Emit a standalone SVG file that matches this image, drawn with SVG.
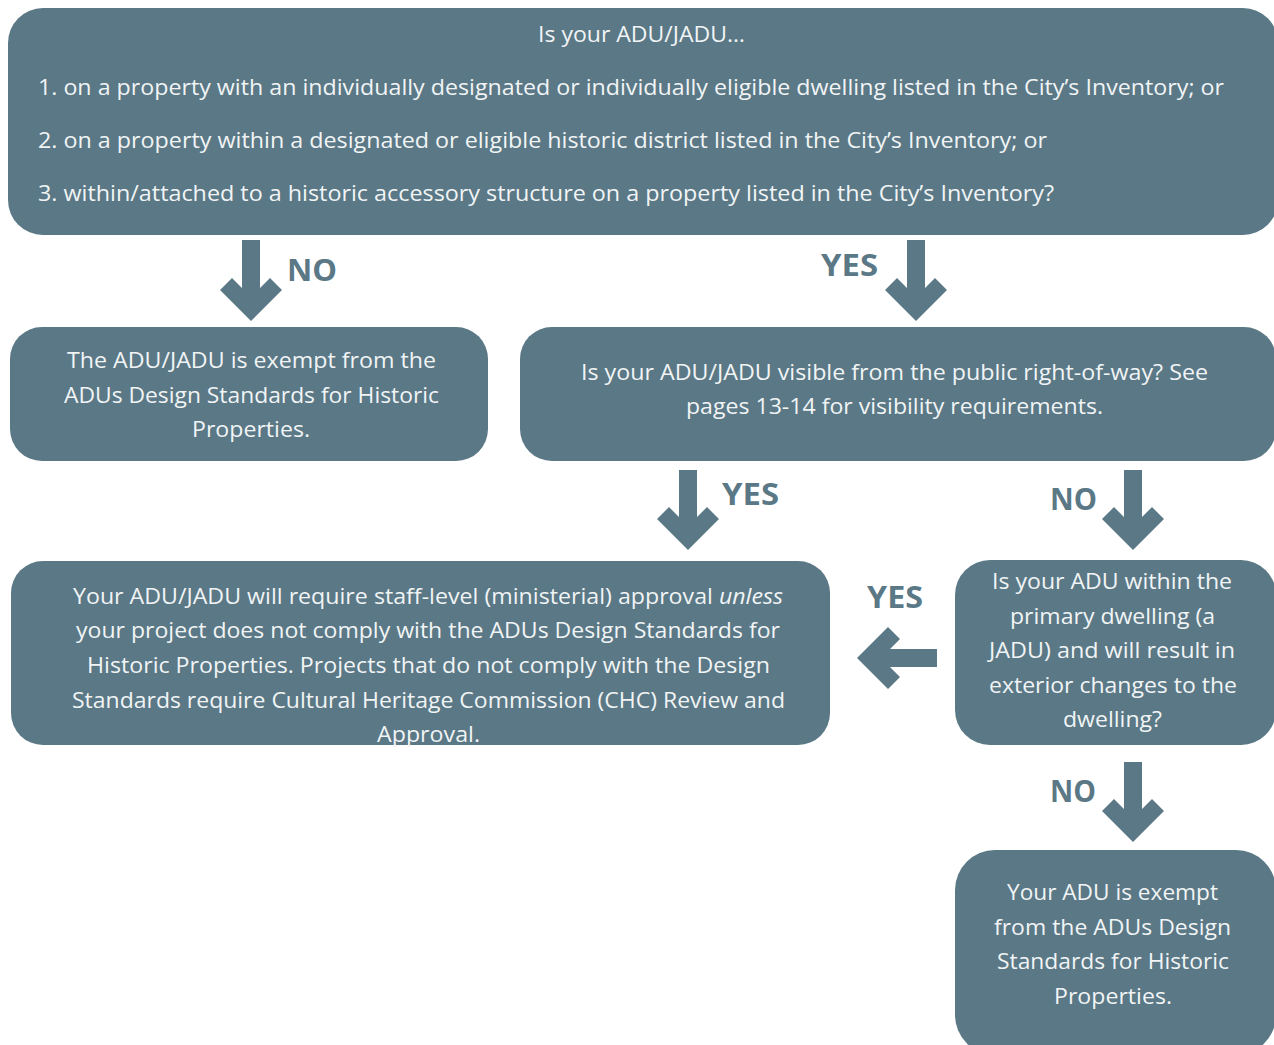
<svg xmlns="http://www.w3.org/2000/svg" width="1274" height="1045" viewBox="0 0 1274 1045">
<style>
.box{fill:#5a7885;}
.t{font-family:"Open Sans","Noto Sans","Liberation Sans",sans-serif;font-size:21px;fill:#f1f4f5;}
.lbl{font-family:"Open Sans","Noto Sans","Liberation Sans",sans-serif;font-size:30px;font-weight:bold;fill:#5a7885;}
.arr{fill:#5a7885;}
</style>
<rect width="1274" height="1045" fill="#ffffff"/>
<g id="q1">
<rect class="box" x="8" y="8" width="1270" height="227" rx="35"/>
<text class="t" x="538" y="42" textLength="207" lengthAdjust="spacingAndGlyphs">Is your ADU/JADU…</text>
<text class="t" x="38" y="95" textLength="1186" lengthAdjust="spacingAndGlyphs">1. on a property with an individually designated or individually eligible dwelling listed in the City’s Inventory; or</text>
<text class="t" x="38" y="148" textLength="1009" lengthAdjust="spacingAndGlyphs">2. on a property within a designated or eligible historic district listed in the City’s Inventory; or</text>
<text class="t" x="38" y="201" textLength="1016" lengthAdjust="spacingAndGlyphs">3. within/attached to a historic accessory structure on a property listed in the City’s Inventory?</text>
</g>
<g id="exempt1">
<rect class="box" x="10" y="327" width="478" height="134" rx="32"/>
<text class="t" x="67" y="368" textLength="369" lengthAdjust="spacingAndGlyphs">The ADU/JADU is exempt from the</text>
<text class="t" x="64" y="403" textLength="375" lengthAdjust="spacingAndGlyphs">ADUs Design Standards for Historic</text>
<text class="t" x="192" y="437" textLength="118" lengthAdjust="spacingAndGlyphs">Properties.</text>
</g>
<g id="q2">
<rect class="box" x="520" y="327" width="756" height="134" rx="32"/>
<text class="t" x="581" y="380" textLength="627" lengthAdjust="spacingAndGlyphs">Is your ADU/JADU visible from the public right-of-way? See</text>
<text class="t" x="686" y="414" textLength="417" lengthAdjust="spacingAndGlyphs">pages 13-14 for visibility requirements.</text>
</g>
<g id="staff">
<rect class="box" x="11" y="561" width="819" height="184" rx="32"/>
<text class="t" x="73" y="604" textLength="710" lengthAdjust="spacingAndGlyphs">Your ADU/JADU will require staff-level (ministerial) approval <tspan font-style="italic">unless</tspan></text>
<text class="t" x="76" y="638" textLength="704" lengthAdjust="spacingAndGlyphs">your project does not comply with the ADUs Design Standards for</text>
<text class="t" x="87" y="673" textLength="683" lengthAdjust="spacingAndGlyphs">Historic Properties. Projects that do not comply with the Design</text>
<text class="t" x="72" y="708" textLength="713" lengthAdjust="spacingAndGlyphs">Standards require Cultural Heritage Commission (CHC) Review and</text>
<text class="t" x="377" y="742" textLength="103" lengthAdjust="spacingAndGlyphs">Approval.</text>
</g>
<g id="q3">
<rect class="box" x="955" y="560" width="321" height="185" rx="35"/>
<text class="t" x="992" y="589" textLength="240" lengthAdjust="spacingAndGlyphs">Is your ADU within the</text>
<text class="t" x="1010" y="624" textLength="205" lengthAdjust="spacingAndGlyphs">primary dwelling (a</text>
<text class="t" x="989" y="658" textLength="246" lengthAdjust="spacingAndGlyphs">JADU) and will result in</text>
<text class="t" x="989" y="693" textLength="248" lengthAdjust="spacingAndGlyphs">exterior changes to the</text>
<text class="t" x="1063" y="727" textLength="99" lengthAdjust="spacingAndGlyphs">dwelling?</text>
</g>
<g id="exempt2">
<rect class="box" x="955" y="850" width="321" height="205" rx="40"/>
<text class="t" x="1007" y="900" textLength="211" lengthAdjust="spacingAndGlyphs">Your ADU is exempt</text>
<text class="t" x="994" y="935" textLength="237" lengthAdjust="spacingAndGlyphs">from the ADUs Design</text>
<text class="t" x="997" y="969" textLength="232" lengthAdjust="spacingAndGlyphs">Standards for Historic</text>
<text class="t" x="1054" y="1004" textLength="118" lengthAdjust="spacingAndGlyphs">Properties.</text>
</g>
<g id="connectors">
<path class="arr" d="M242,240 H260 V288 L270,278 L282,290 L251,321 L220,290 L232,278 L242,288 Z"/>
<text class="lbl" x="287" y="281" textLength="50" lengthAdjust="spacingAndGlyphs">NO</text>
<path class="arr" d="M907,240 H925 V288 L935,278 L947,290 L916,321 L885,290 L897,278 L907,288 Z"/>
<text class="lbl" x="821" y="276" textLength="57" lengthAdjust="spacingAndGlyphs">YES</text>
<path class="arr" d="M679,470 H697 V517 L707,507 L719,519 L688,550 L657,519 L669,507 L679,517 Z"/>
<text class="lbl" x="722" y="505" textLength="57" lengthAdjust="spacingAndGlyphs">YES</text>
<path class="arr" d="M1124,470 H1142 V517 L1152,507 L1164,519 L1133,550 L1102,519 L1114,507 L1124,517 Z"/>
<text class="lbl" x="1050" y="510" textLength="47" lengthAdjust="spacingAndGlyphs">NO</text>
<path class="arr" d="M937,649 V667 H890 L900,677 L888,689 L857,658 L888,627 L900,639 L890,649 Z"/>
<text class="lbl" x="867" y="608" textLength="56" lengthAdjust="spacingAndGlyphs">YES</text>
<path class="arr" d="M1124,762 H1142 V809 L1152,799 L1164,811 L1133,842 L1102,811 L1114,799 L1124,809 Z"/>
<text class="lbl" x="1050" y="802" textLength="46" lengthAdjust="spacingAndGlyphs">NO</text>
</g>
</svg>
